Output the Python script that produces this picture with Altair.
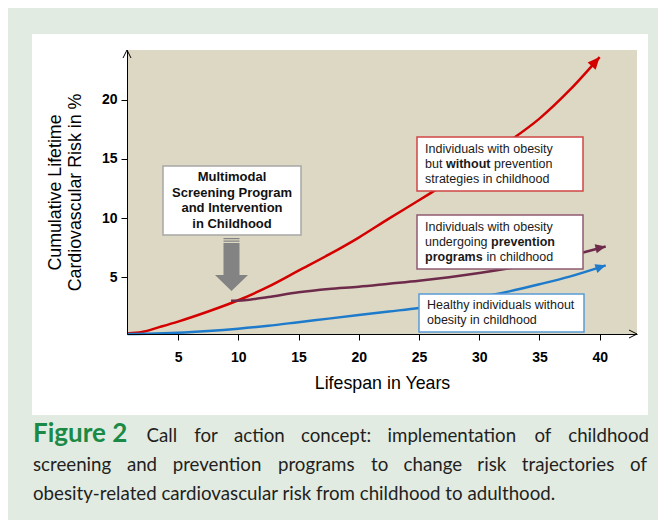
import altair as alt
import pandas as pd

# ---------------- data ----------------
series_names = ["Obesity, no prevention", "Obesity, prevention programs", "Healthy"]
series_colors = ["#d40000", "#6e2a4a", "#1e7bcc"]

years_no_prev = [0.8, 2, 3.5, 5, 7.5, 10, 12.5, 15, 17.5, 20, 22.5, 25, 27.5, 30, 32.5, 35, 37.5, 40.0]
risk_no_prev = [0.25, 0.37, 0.8, 1.25, 2.1, 3.05, 4.2, 5.55, 6.9, 8.35, 9.95, 11.5, 13.1, 14.8, 16.5, 18.4, 20.8, 23.6]

years_prev = [9.4, 10.5, 12.5, 15, 17.5, 20, 22.5, 25, 27.5, 30, 32.5, 35, 37.5, 40.5]
risk_prev = [3.0, 3.05, 3.33, 3.72, 4.0, 4.2, 4.45, 4.7, 5.0, 5.35, 5.75, 6.2, 6.8, 7.6]

years_healthy = [0.8, 2.5, 5, 7.5, 10, 12.5, 15, 17.5, 20, 22.5, 25, 27.5, 30, 32.5, 35, 37.5, 40.5]
risk_healthy = [0.2, 0.22, 0.3, 0.45, 0.65, 0.9, 1.2, 1.5, 1.8, 2.1, 2.4, 2.8, 3.3, 3.8, 4.4, 5.05, 6.0]

x_ticks = [5, 10, 15, 20, 25, 30, 35, 40]
y_ticks = [5, 10, 15, 20]

x_title = "Lifespan in Years"
y_title = ["Cumulative Lifetime", "Cardiovascular Risk in %"]

box_center_lines = ["Multimodal", "Screening Program", "and Intervention", "in Childhood"]
caption_label = "Figure 2"
caption_lines = [
    "Call for action concept: implementation of childhood",
    "screening and prevention programs to change risk trajectories of",
    "obesity-related cardiovascular risk from childhood to adulthood.",
]

# ---------------- build tables ----------------
rows = []
for name, xs, ys in zip(series_names,
                        [years_no_prev, years_prev, years_healthy],
                        [risk_no_prev, risk_prev, risk_healthy]):
    for i, (a, b) in enumerate(zip(xs, ys)):
        rows.append({"series": name, "year": a, "risk": b, "order": i})
df = pd.DataFrame(rows)
ends = df.groupby("series").tail(1).reset_index(drop=True)
one = pd.DataFrame({"k": [0]})

W, H = 510, 284
FONT = "Liberation Sans"

x_enc = alt.X("year:Q", scale=alt.Scale(domain=[0.76, 43.1], nice=False, zero=False),
              axis=alt.Axis(values=x_ticks, title=x_title, grid=False, zindex=1,
                            domainColor="black", tickColor="black", tickSize=6,
                            labelFont=FONT, labelFontSize=14, labelFontWeight="bold",
                            labelColor="black", labelPadding=10,
                            titleFont=FONT, titleFontSize=17.8, titleFontWeight="normal",
                            titleColor="black", titleX=255, titleY=54,
                            titleBaseline="alphabetic", titleAlign="center"))
y_enc = alt.Y("risk:Q", scale=alt.Scale(domain=[0.2, 24.2], nice=False, zero=False),
              axis=alt.Axis(values=y_ticks, title=y_title, grid=False, zindex=1,
                            domainColor="black", tickColor="black", tickSize=6,
                            labelFont=FONT, labelFontSize=14, labelFontWeight="bold",
                            labelColor="black", labelPadding=4,
                            titleFont=FONT, titleFontSize=17.8, titleFontWeight="normal",
                            titleColor="black", titleX=-72, titleY=142, titleAngle=270,
                            titleBaseline="middle", titleAlign="center", titleLineHeight=20))
color_enc = alt.Color("series:N", scale=alt.Scale(domain=series_names, range=series_colors), legend=None)


def px_rect(x, x2, y, y2, fill, stroke=None, sw=1.5):
    kw = dict(fill=fill)
    if stroke:
        kw.update(stroke=stroke, strokeWidth=sw)
    return alt.Chart(one).mark_rect(**kw).encode(
        x=alt.value(x), x2=alt.value(x2), y=alt.value(y), y2=alt.value(y2))


def px_text(x, y, txt, size=12.5, weight="normal", color="#1a1a1a", font=FONT,
            align="left", baseline="middle", lh=None):
    kw = dict(align=align, baseline=baseline, font=font, fontSize=size,
              fontWeight=weight, color=color)
    if lh:
        kw.update(lineHeight=lh, lineBreak="\n")
    return alt.Chart(one).mark_text(**kw).encode(
        x=alt.value(x), y=alt.value(y), text=alt.value(txt))


# rough Lato advance widths (em) used only to spread justified caption words
LATO_W = dict(a=.49, b=.55, c=.45, d=.55, e=.51, f=.32, g=.49, h=.55, i=.24, j=.24, k=.50,
              l=.24, m=.82, n=.55, o=.55, p=.55, q=.55, r=.36, s=.42, t=.35, u=.55, v=.50,
              w=.76, x=.49, y=.50, z=.45)
LATO_W.update({":": .24, ".": .22, "-": .33, "C": .66})


def word_w(word, size):
    return sum(LATO_W.get(c, .5) for c in word) * size * 1.033


layers = []
# white panel and beige plot background
layers.append(px_rect(-95, 521, -16, 365, "#ffffff"))
layers.append(px_rect(0, W, 0, H, "#ddd8c3"))

# curves
layers.append(alt.Chart(df).mark_line(strokeWidth=2.5, interpolate="monotone").encode(
    x=x_enc, y=y_enc, color=color_enc, order="order:Q"))

# arrow heads at curve ends
head = "M0,0L0.45,1L-0.45,1Z"
for name, col, ang, sz in zip(series_names, series_colors, [42, 77, 72], [576, 420, 420]):
    layers.append(alt.Chart(ends).transform_filter(alt.datum.series == name).mark_point(
        shape=head, size=sz, angle=ang, filled=True, color=col, opacity=1, strokeOpacity=0
    ).encode(x=x_enc, y=y_enc))

# multimodal box + gray arrow
layers.append(px_rect(36, 174, 116, 185, "#ffffff", "#a6a6a6"))
layers.append(px_text(105, 127, "\n".join(box_center_lines), size=13, weight="bold",
                      align="center", lh=15.7, color="#111111"))
arrow_path = ("M-0.302,-1h0.604v0.045h-0.604Z"
              "M-0.302,-0.905h0.604v0.045h-0.604Z"
              "M-0.302,-0.811L0.302,-0.811L0.302,0.396L0.623,0.396L0,1L-0.623,0.396L-0.302,0.396Z")
layers.append(alt.Chart(one).mark_point(shape=arrow_path, size=2809, filled=True, color="#838383",
                                        opacity=1, strokeOpacity=0).encode(
    x=alt.value(104.5), y=alt.value(214.5)))

# red box
layers.append(px_rect(290, 456, 87, 141, "#ffffff", "#d04545"))
layers.append(px_text(298, 99, "Individuals with obesity"))
layers.append(px_text(298, 114, "but"))
layers.append(px_text(319, 114, "without", weight="bold"))
layers.append(px_text(367, 114, "prevention"))
layers.append(px_text(298, 129, "strategies in childhood"))

# purple box
layers.append(px_rect(290, 456, 165, 219, "#ffffff", "#8e5a72"))
layers.append(px_text(298, 177, "Individuals with obesity"))
layers.append(px_text(298, 192, "undergoing"))
layers.append(px_text(364, 192, "prevention", weight="bold"))
layers.append(px_text(298, 207, "programs", weight="bold"))
layers.append(px_text(359.5, 207, "in childhood"))

# blue box
layers.append(px_rect(292, 457, 244, 282, "#ffffff", "#5b9bd5"))
layers.append(px_text(300, 255, "Healthy individuals without"))
layers.append(px_text(300, 270, "obesity in childhood"))

# axis arrow heads
chev = "M-1,2L0,0L1,2"
layers.append(alt.Chart(one).mark_point(shape=chev, size=64, filled=False, color="black",
                                        strokeWidth=1, opacity=1).encode(
    x=alt.value(0), y=alt.value(0)))
layers.append(alt.Chart(one).mark_point(shape=chev, size=64, filled=False, color="black",
                                        strokeWidth=1, opacity=1, angle=90).encode(
    x=alt.value(W), y=alt.value(H)))

# caption (justified lines 1-2, natural line 3)
CAP = "Lato"
CS = 18.7
CAP_COL = "#231f20"
layers.append(px_text(-94, 392, caption_label, size=26, weight="bold", color="#1a8a46",
                      font=CAP, baseline="alphabetic"))
for line, x0, x1, yb in [(caption_lines[0], 19.6, 522, 392), (caption_lines[1], -94, 520, 421)]:
    words = line.split(" ")
    ws = [word_w(w, CS) for w in words]
    gap = (x1 - x0 - sum(ws)) / (len(words) - 1)
    xpos = x0
    for k, (wd, wwid) in enumerate(zip(words, ws)):
        if k == len(words) - 1:
            layers.append(px_text(x1, yb, wd, size=CS, color=CAP_COL, font=CAP,
                                  baseline="alphabetic", align="right"))
        else:
            layers.append(px_text(xpos, yb, wd, size=CS, color=CAP_COL, font=CAP,
                                  baseline="alphabetic"))
        xpos += wwid + gap
layers.append(px_text(-94, 450, caption_lines[2], size=CS, color=CAP_COL, font=CAP,
                      baseline="alphabetic"))

chart = alt.layer(*layers).properties(
    width=W, height=H, background="#e2ebe2",
    padding={"left": 119, "top": 42, "right": 21, "bottom": 186},
    autosize=alt.AutoSizeParams(type="none"),
).configure_view(stroke=None)

chart.save("out.html", embed_options={"renderer": "svg", "actions": False})
